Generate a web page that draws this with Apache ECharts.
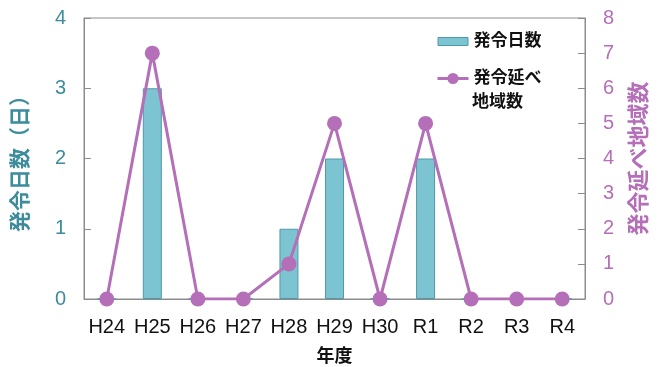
<!DOCTYPE html>
<html>
<head>
<meta charset="utf-8">
<script src="https://cdn.jsdelivr.net/npm/echarts@6/dist/echarts.min.js"></script>
<style>
  html, body { margin: 0; padding: 0; background: #fff; }
  #chart { width: 659px; height: 367px; }
</style>
</head>
<body>
<div id="chart"></div>
<script>
const years = ['H24', 'H25', 'H26', 'H27', 'H28', 'H29', 'H30', 'R1', 'R2', 'R3', 'R4']
const issueDays = [0, 3, 0, 0, 1, 2, 0, 2, 0, 0, 0]
const issueAreas = [0, 7, 0, 0, 1, 5, 0, 5, 0, 0, 0]

const teal = '#3d8c9c'
const purple = '#b46fb8'
const font = '"Liberation Sans", "Noto Sans CJK JP", sans-serif'

const chart = echarts.init(document.getElementById('chart'), null, { renderer: 'canvas' })

chart.setOption({
  animation: false,
  textStyle: { fontFamily: font },
  grid: {
    left: 84, right: 74, top: 18, bottom: 68,
    outerBoundsMode: 'none',
    show: true, borderColor: '#8c8c8c', borderWidth: 1
  },
  legend: {
    orient: 'vertical',
    left: 431,
    top: 24,
    itemWidth: 31,
    itemHeight: 14,
    itemGap: 12,
    formatter: (name) => name === '発令延べ地域数' ? '発令延べ' : name,
    textStyle: { color: '#111', fontSize: 17, fontWeight: 'bold', fontFamily: font, lineHeight: 25 },
    data: [
      { name: '発令日数', icon: 'path://M0,0L0,0M0,3h30v8h-30zM30,14L30,14', itemStyle: { borderWidth: 1 } },
      { name: '発令延べ地域数', lineStyle: { width: 3 } }
    ]
  },
  graphic: [
    {
      type: 'text',
      left: 472,
      top: 94,
      z: 100,
      style: { text: '地域数', fill: '#111', fontSize: 17, fontWeight: 'bold', fontFamily: font }
    }
  ],
  xAxis: {
    type: 'category',
    data: years,
    name: '年度',
    nameLocation: 'middle',
    nameGap: 49,
    nameTextStyle: { color: '#111', fontSize: 18, fontWeight: 'bold' },
    axisLine: { lineStyle: { color: '#8c8c8c' } },
    axisTick: { inside: true, length: 6, lineStyle: { color: '#8c8c8c' } },
    axisLabel: { color: '#111', fontSize: 20, margin: 18, interval: 0, hideOverlap: false }
  },
  yAxis: [
    {
      type: 'value',
      min: 0, max: 4, interval: 1,
      name: '発令日数（日）',
      nameLocation: 'middle',
      nameGap: 52,
      nameRotate: 90,
      nameTextStyle: { color: teal, fontSize: 21, fontWeight: 'bold' },
      axisLine: { show: true, lineStyle: { color: '#8c8c8c' } },
      axisTick: { show: true, inside: true, length: 7, lineStyle: { color: '#8c8c8c' } },
      axisLabel: { color: teal, fontSize: 20, margin: 18 },
      splitLine: { show: false }
    },
    {
      type: 'value',
      min: 0, max: 8, interval: 1,
      name: '発令延べ地域数',
      nameLocation: 'middle',
      nameGap: 44,
      nameRotate: 90,
      nameTextStyle: { color: purple, fontSize: 22, fontWeight: 'bold' },
      axisLine: { show: true, lineStyle: { color: '#8c8c8c' } },
      axisTick: { show: true, inside: true, length: 7, lineStyle: { color: '#8c8c8c' } },
      axisLabel: { color: purple, fontSize: 20, margin: 18 },
      splitLine: { show: false }
    }
  ],
  series: [
    {
      name: '発令日数',
      type: 'bar',
      yAxisIndex: 0,
      data: issueDays,
      barWidth: 19,
      itemStyle: { color: '#7cc4d1', borderColor: '#4f9aa8', borderWidth: 1 }
    },
    {
      name: '発令延べ地域数',
      type: 'line',
      yAxisIndex: 1,
      data: issueAreas,
      symbol: 'circle',
      symbolSize: 15,
      lineStyle: { color: purple, width: 3 },
      itemStyle: { color: purple }
    }
  ]
})
</script>
</body>
</html>
